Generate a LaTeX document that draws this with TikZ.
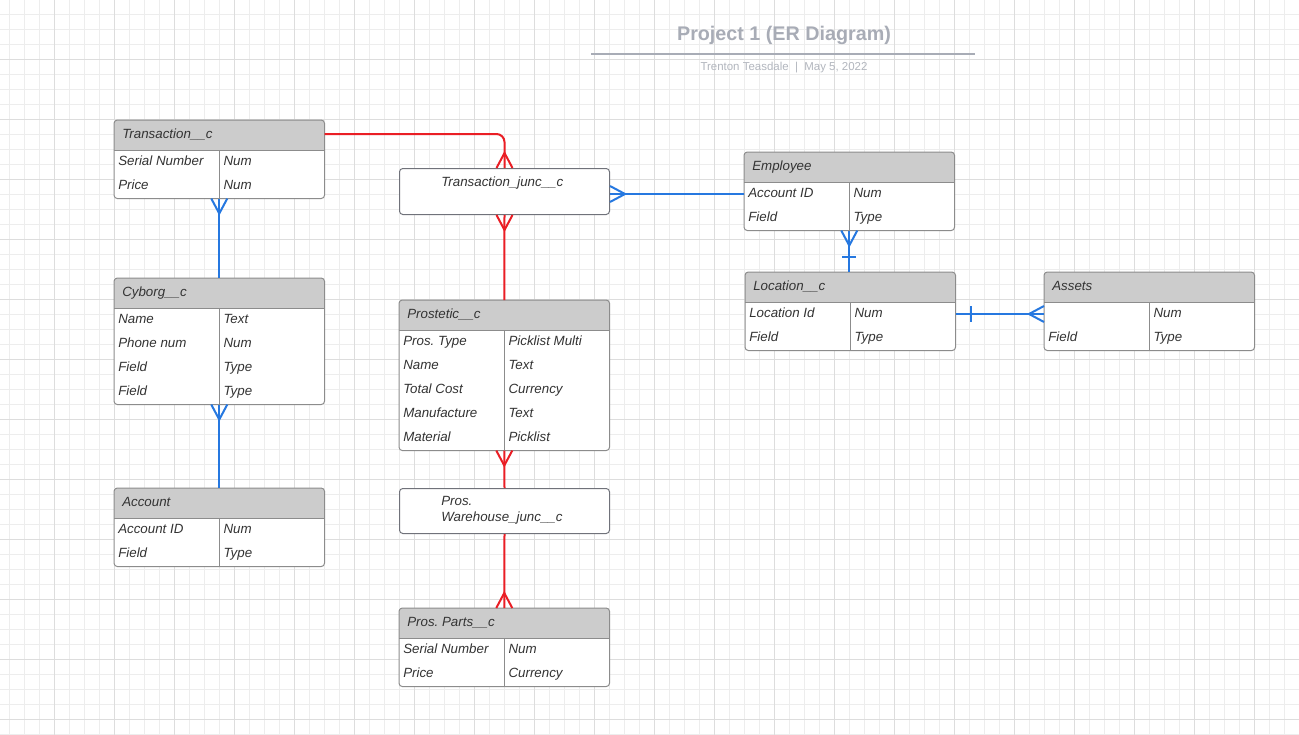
\documentclass[tikz,border=0pt]{standalone}
\usepackage{fontspec}
\setmainfont{Liberation Sans}
\usetikzlibrary{calc}
\frenchspacing

\definecolor{gridminor}{RGB}{237,237,237}
\definecolor{gridmajor}{RGB}{221,221,221}
\definecolor{headfill}{RGB}{204,204,204}
\definecolor{framegray}{RGB}{140,140,140}
\definecolor{juncgray}{RGB}{112,114,122}
\definecolor{celltext}{RGB}{51,51,51}
\definecolor{relred}{RGB}{234,30,37}
\definecolor{relblue}{RGB}{38,120,224}
\definecolor{titlegray}{RGB}{168,172,182}
\definecolor{subgray}{RGB}{178,182,190}

\tikzset{
  tbl/.style={anchor=north west, fill=white, inner sep=0pt, minimum width=157.5pt},
  jbox/.style={anchor=north west, draw=juncgray, fill=white, line width=0.75pt,
    rounded corners=2.5pt, inner sep=0pt, minimum width=157.5pt},
  tblline/.style={draw=framegray, line width=0.75pt},
  ttl/.style={anchor=base west, inner sep=0pt, text=celltext,
    font=\itshape\fontsize{10}{12}\selectfont},
  attr/.style={ttl},
  redlink/.style={draw=relred, line width=1.5pt},
  bluelink/.style={draw=relblue, line width=1.5pt},
}

\begin{document}
\begin{tikzpicture}[x=0.75pt, y=-0.75pt]
  \useasboundingbox (0,0) rectangle (1299,735);
  \fill[white] (0,0) rectangle (1299,735);

  % grid
  \foreach \gx in {9.5,24.5,...,1299} \draw[gridminor, line width=0.75pt] (\gx,0) -- (\gx,735);
  \foreach \gy in {14.5,29.5,...,735} \draw[gridminor, line width=0.75pt] (0,\gy) -- (1299,\gy);
  \foreach \gx in {54.5,114.5,...,1299} \draw[gridmajor, line width=0.75pt] (\gx,0) -- (\gx,735);
  \foreach \gy in {59.5,119.5,...,735} \draw[gridmajor, line width=0.75pt] (0,\gy) -- (1299,\gy);

  % title
  \node[anchor=base, inner sep=0pt, text=titlegray, font=\bfseries\fontsize{14.8}{18}\selectfont]
    (title) at (784,41) {Project 1 (ER Diagram)};
  \draw[titlegray, line width=1.1pt] (591,54) -- (975,54);
  \node[anchor=base, inner sep=0pt, text=subgray, font=\fontsize{8.6}{10}\selectfont]
    (byline) at (784,71) {Trenton Teasdale~~|~~May 5, 2022};

  % tables
  \foreach \nm/\x/\y/\h/\tname/\rows in {
    trans/114/120/78/Transaction\_\_c/{Serial Number/Num,Price/Num},
    cyborg/114/278/126/Cyborg\_\_c/{Name/Text,Phone num/Num,Field/Type,Field/Type},
    account/114/488/78/Account/{Account ID/Num,Field/Type},
    prost/399/300/150/Prostetic\_\_c/{Pros. Type/Picklist Multi,Name/Text,Total Cost/Currency,Manufacture/Text,Material/Picklist},
    parts/399/608/78/Pros. Parts\_\_c/{Serial Number/Num,Price/Currency},
    emp/744/152/78/Employee/{Account ID/Num,Field/Type},
    loc/745/272/78/Location\_\_c/{Location Id/Num,Field/Type},
    assets/1044/272/78/Assets/{/Num,Field/Type}} {
    \node[tbl, minimum height=\h*0.75pt] (\nm) at (\x,\y) {};
    \begin{scope}
      \clip[rounded corners=2.5pt] (\nm.north west) rectangle (\nm.south east);
      \fill[headfill] (\nm.north west) rectangle ($(\nm.north east)+(0,30)$);
    \end{scope}
    \draw[tblline] ($(\nm.north west)+(0,30)$) -- ($(\nm.north east)+(0,30)$);
    \draw[tblline] ($(\nm.north)+(0,30)$) -- (\nm.south);
    \draw[tblline, rounded corners=2.5pt] (\nm.north west) rectangle (\nm.south east);
    \node[ttl] (\nm-h) at ($(\nm.north west)+(8,18.5)$) {\tname};
    \foreach \a/\b [count=\k] in \rows {
      \node[attr] (\nm-\k-a) at ($(\nm.north west)+(4,21.5+24*\k)$) {\a};
      \node[attr] (\nm-\k-b) at ($(\nm.north)+(4,21.5+24*\k)$) {\b};
    }
  }

  % junction objects
  \node[jbox, minimum height=34.5pt] (tjunc) at (399,168) {};
  \node[ttl] (tjunc-t) at ($(tjunc.north west)+(42,18)$) {Transaction\_junc\_\_c};
  \node[jbox, minimum height=33.75pt] (wjunc) at (399,488) {};
  \node[ttl, anchor=north west, align=left] (wjunc-t) at ($(wjunc.north west)+(42,8.5)$)
    {Pros.\\Warehouse\_junc\_\_c};

  % red relationships
  \draw[redlink, rounded corners=6pt] ($(trans.north east)+(0,14)$) -| (tjunc.north);
  \draw[redlink] ($(tjunc.north)+(-8,0)$) -- ($(tjunc.north)+(0,-15)$) -- ($(tjunc.north)+(8,0)$);
  \draw[redlink] (tjunc.south) -- (prost.north);
  \draw[redlink] ($(tjunc.south)+(-8,0)$) -- ($(tjunc.south)+(0,15)$) -- ($(tjunc.south)+(8,0)$);
  \draw[redlink] (prost.south) -- (wjunc.north);
  \draw[redlink] ($(prost.south)+(-8,0)$) -- ($(prost.south)+(0,15)$) -- ($(prost.south)+(8,0)$);
  \draw[redlink] (wjunc.south) -- (parts.north);
  \draw[redlink] ($(parts.north)+(-8,0)$) -- ($(parts.north)+(0,-15)$) -- ($(parts.north)+(8,0)$);

  % blue relationships
  \draw[bluelink] (trans.south) -- (cyborg.north);
  \draw[bluelink] ($(trans.south)+(-8,0)$) -- ($(trans.south)+(0,15)$) -- ($(trans.south)+(8,0)$);
  \draw[bluelink] (cyborg.south) -- (account.north);
  \draw[bluelink] ($(cyborg.south)+(-8,0)$) -- ($(cyborg.south)+(0,15)$) -- ($(cyborg.south)+(8,0)$);

  \coordinate (emp-a) at ($(emp.north west)+(0,42)$);
  \coordinate (tjunc-e) at (tjunc.east |- emp-a);
  \draw[bluelink] (emp-a) -- (tjunc-e);
  \draw[bluelink] ($(tjunc-e)+(0,-8)$) -- ($(tjunc-e)+(15,0)$) -- ($(tjunc-e)+(0,8)$);

  \coordinate (loc-n) at (emp.south |- loc.north);
  \draw[bluelink] (emp.south) -- (loc-n);
  \draw[bluelink] ($(emp.south)+(-8,0)$) -- ($(emp.south)+(0,15)$) -- ($(emp.south)+(8,0)$);
  \draw[bluelink] ($(loc-n)+(-7,-15)$) -- ($(loc-n)+(7,-15)$);

  \coordinate (loc-a) at ($(loc.north east)+(0,42)$);
  \coordinate (assets-a) at ($(assets.north west)+(0,42)$);
  \draw[bluelink] (loc-a) -- (assets-a);
  \draw[bluelink] ($(loc-a)+(15,-8)$) -- ($(loc-a)+(15,8)$);
  \draw[bluelink] ($(assets-a)+(0,-8)$) -- ($(assets-a)+(-15,0)$) -- ($(assets-a)+(0,8)$);
\end{tikzpicture}
\end{document}
